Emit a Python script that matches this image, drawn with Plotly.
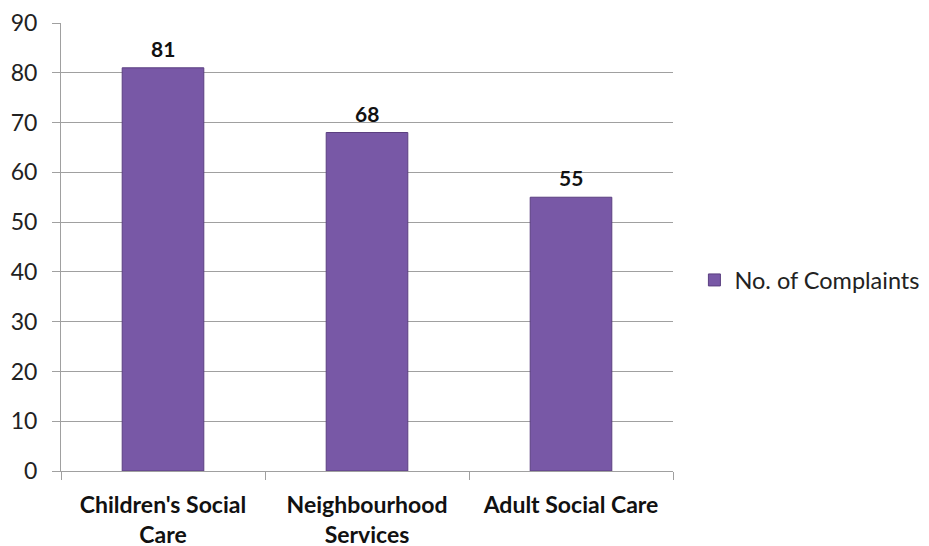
import plotly.graph_objects as go

categories = ["Children's Social<br>Care", "Neighbourhood<br>Services", "Adult Social Care"]
values = [81, 68, 55]
series_name = "No. of Complaints"
y_ticks = [0, 10, 20, 30, 40, 50, 60, 70, 80, 90]

FONT = "Lato, Open Sans, Liberation Sans, sans-serif"
xcats = [f"<b>{c}</b>" for c in categories]

fig = go.Figure()
fig.add_trace(go.Bar(
    x=xcats,
    y=values,
    name=series_name,
    width=0.4,
    marker=dict(color="#7858a6", line=dict(color="#5b3f80", width=1)),
    showlegend=True,
))
for c, v in zip(xcats, values):
    fig.add_annotation(x=c, y=v, text=f"<b>{v}</b>", showarrow=False,
                       yanchor="bottom", yshift=5,
                       font=dict(size=21, color="#111111", family=FONT))

# page body has an 8px margin; compensate so the plot area lands where the reference has it
fig.update_layout(
    width=921, height=538,
    margin=dict(l=53, r=256, t=15, b=75, autoexpand=False),
    paper_bgcolor="white", plot_bgcolor="white",
    font=dict(family=FONT, color="#222222"),
    showlegend=True,
    legend=dict(x=1.035, y=0.426, xanchor="left", yanchor="middle",
                font=dict(size=23.5, color="#222222", family=FONT),
                itemwidth=30, bgcolor="rgba(0,0,0,0)"),
    bargap=0.6,
)
fig.update_yaxes(
    range=[0, 90], tickvals=y_ticks, showgrid=True, gridcolor="#a0a0a0", gridwidth=1,
    showline=True, linecolor="#a0a0a0", ticks="outside", ticklen=8, tickcolor="#a0a0a0",
    tickfont=dict(size=23, color="#222222", family=FONT), zeroline=False,
    automargin=False, ticklabelstandoff=10,
)
fig.update_xaxes(
    showline=True, linecolor="#a0a0a0", ticks="outside", ticklen=8, tickcolor="#a0a0a0",
    tickson="boundaries", tickfont=dict(size=23, color="#111111", family=FONT),
    automargin=False, ticklabelstandoff=13,
)

fig.write_html("out.html")
